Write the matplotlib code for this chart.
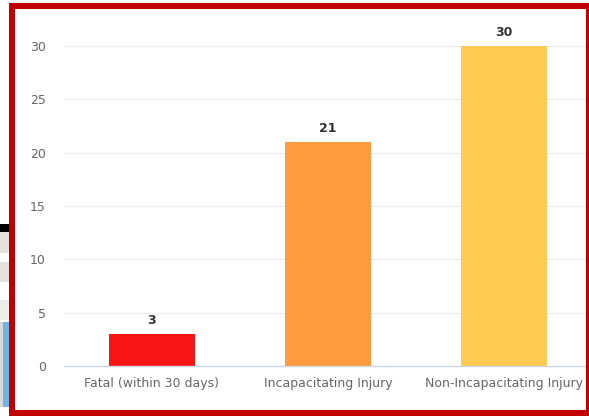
import matplotlib.pyplot as plt
import matplotlib.patches as patches

categories = ["Fatal (within 30 days)", "Incapacitating Injury", "Non-Incapacitating Injury"]
counts = [3, 21, 30]
bar_colors = ["#f81414", "#fd9b3e", "#fecb52"]
yticks = [0, 5, 10, 15, 20, 25, 30]

W, H = 589, 418
fig = plt.figure(figsize=(W / 100, H / 100), dpi=100)
fig.patch.set_facecolor("white")


def px(x0, y0, w, h):
    # pixel box (top-left origin) -> figure fraction rect
    return (x0 / W, 1 - (y0 + h) / H, w / W, h / H)


# screenshot leftovers outside the red frame
for (x0, y0, w, h, c) in [
    (0, 224, 9, 8, "#000000"),
    (0, 232, 9, 21, "#e4e2df"),
    (0, 262, 9, 20, "#e4e2df"),
    (0, 300, 9, 20, "#ececea"),
    (0, 322, 3, 85, "#d9d9d9"),
    (3, 322, 6, 85, "#6cb6ea"),
]:
    fig.add_artist(patches.Rectangle(px(x0, y0, w, h)[:2], w / W, h / H,
                                     transform=fig.transFigure, facecolor=c,
                                     edgecolor="none", zorder=0))

# plot area: categories 176 px apart, first centred at x=152
left, right = 64, 586
ax = fig.add_axes([left / W, (H - 366) / H, (right - left) / W, (366 - 46) / H])
ax.set_facecolor("none")
x = list(range(len(categories)))
ax.bar(x, counts, width=0.49, color=bar_colors, zorder=2)
for xi, v in zip(x, counts):
    ax.text(xi, v + 0.7, str(v), ha="center", va="bottom", fontsize=9,
            fontweight="bold", color="#333333", clip_on=False)

ax.set_xlim(-0.5, -0.5 + (right - left) / 176)
ax.set_ylim(0, 30)
ax.set_yticks(yticks)
ax.set_xticks(x)
ax.set_xticklabels(categories)
ax.tick_params(axis="both", length=0, labelsize=9, labelcolor="#666666")
ax.tick_params(axis="y", pad=13)
ax.tick_params(axis="x", pad=8)
ax.yaxis.grid(True, color="#ececec", linewidth=0.8, zorder=0)
ax.set_axisbelow(True)
for s in ["top", "right", "left"]:
    ax.spines[s].set_visible(False)
ax.spines["bottom"].set_color("#ccd6eb")
ax.spines["bottom"].set_linewidth(1)
ax.spines["bottom"].set_zorder(3)

# red frame
frame = "#c00000"
for (x0, y0, w, h) in [
    (9, 3, 580, 6),      # top
    (9, 3, 6, 412),      # left
    (9, 410, 580, 6),    # bottom
    (586, 3, 3, 412),    # right
]:
    fig.add_artist(patches.Rectangle(px(x0, y0, w, h)[:2], w / W, h / H,
                                     transform=fig.transFigure, facecolor=frame,
                                     edgecolor="none", zorder=10))

fig.savefig("out.png", dpi=100, facecolor="white")
